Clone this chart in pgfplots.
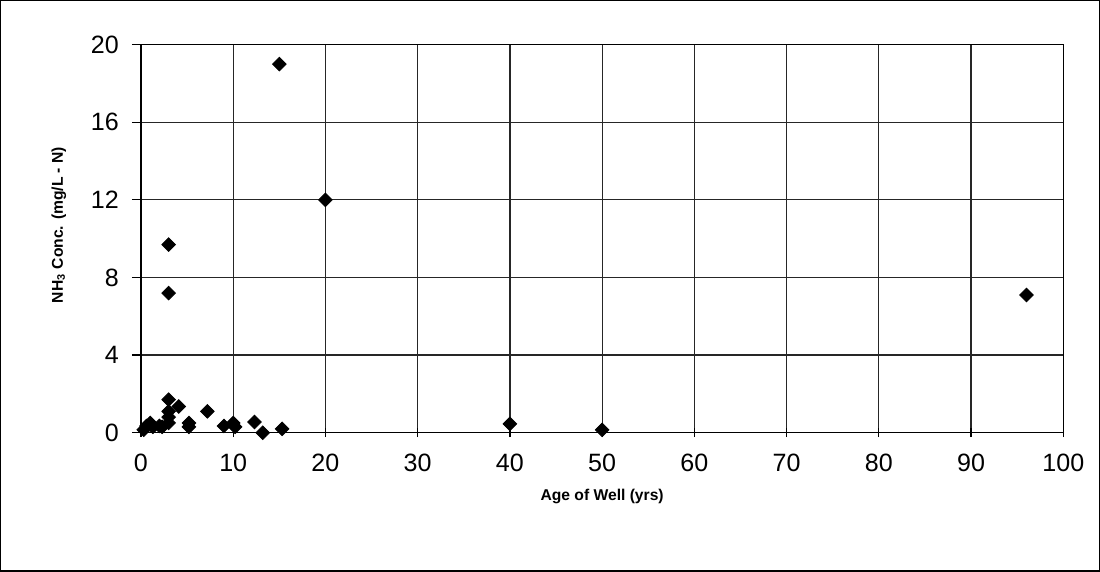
\documentclass[border=0pt]{standalone}
\usepackage{fontspec}
\setmainfont{Liberation Sans}
\usepackage{pgfplots}
\pgfplotsset{compat=1.18}
\begin{document}
\begin{tikzpicture}
\begin{axis}[
  at={(0pt,0pt)}, anchor=south west,
  scale only axis, width=460pt, height=193.5pt,
  xmin=0, xmax=100, ymin=0, ymax=20,
  xtick={0,10,...,100}, ytick={0,4,...,20},
  grid=major,
  major grid style={black!85, line width=0.6pt},
  axis line style={black, line width=0.6pt},
  xtick pos=left, ytick pos=left,
  xtick align=center, ytick align=outside,
  major tick length=4.5pt,
  tick style={black, line width=0.6pt},
  /pgf/number format/assume math mode=true,
  ticklabel style={font=\fontsize{12.5}{14}\selectfont},
  xticklabel shift=5pt,
  yticklabel shift=3pt,
  xlabel={\textbf{Age of Well (yrs)}},
  ylabel={\textbf{NH\textsubscript{3} Conc. (mg/L - N)}},
  label style={font=\fontsize{7.8}{9}\selectfont},
  xlabel style={yshift=-1.5pt},
  ylabel style={at={(ticklabel cs:0.535)}, yshift=5.5pt},
]
\addplot[only marks, mark=square*, mark size=2.4pt, mark options={rotate=45, fill=black, draw=black}] coordinates {
(0.3,0.15) (0.6,0.35) (1.0,0.5) (1.3,0.3) (2.0,0.35) (2.3,0.3)
(3.0,1.7) (3.0,1.1) (3.0,0.8) (3.0,0.5) (3.0,9.7) (3.0,7.2)
(4.1,1.35) (5.2,0.3) (5.2,0.5) (7.2,1.1) (9.0,0.35) (10.0,0.5) (10.2,0.3)
(12.3,0.55) (13.2,0.0) (15.3,0.2) (15.0,19.0) (20.0,12.0)
(40.0,0.45) (50.0,0.15) (96.0,7.1)
};
\end{axis}
\draw[black, line width=0.6pt] (-70pt,-69pt) rectangle (478pt,215.5pt);
\end{tikzpicture}
\end{document}
